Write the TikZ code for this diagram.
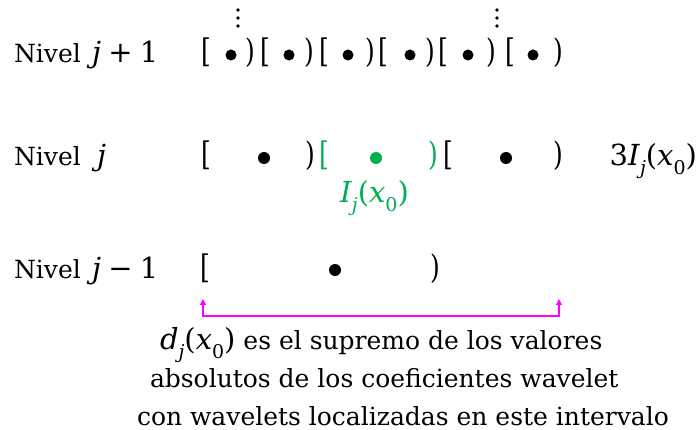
\documentclass[tikz,border=0pt]{standalone}
\usepackage{fontspec}
\setmainfont{DejaVu Serif}
\usetikzlibrary{arrows.meta}
\definecolor{ggreen}{RGB}{0,176,80}
\definecolor{mag}{RGB}{255,0,255}
\newcommand{\mysub}[1]{\raisebox{-0.3em}{\fontsize{19}{19}\selectfont #1}}
\newcommand{\mth}[1]{{\fontsize{29}{30}\selectfont #1}}
\newcommand{\tallbr}[1]{\scalebox{1}[1.3]{#1}}
\tikzset{
  txt/.style={inner sep=0pt, outer sep=0pt, font=\fontsize{25}{30}\selectfont, anchor=base west},
  brk/.style={inner sep=0pt, outer sep=0pt, font=\fontsize{25}{30}\selectfont, anchor=base},
  dotn/.style={circle, fill=black, draw=none, inner sep=0pt, minimum size=12pt},
  vdot/.style={circle, fill=black, draw=none, inner sep=0pt, minimum size=3.6pt},
  conn/.style={mag, line width=1.4pt, {Triangle[length=6pt,width=6pt]}-{Triangle[length=6pt,width=6pt]}}
}
\begin{document}
\begin{tikzpicture}[x=1pt,y=-1pt]
\useasboundingbox (0,0) rectangle (699,430);
% vertical dots
\foreach \yy [count=\k] in {10,18,26}{
  \node[vdot] (va\k) at (238,\yy) {};
  \node[vdot] (vb\k) at (497,\yy) {};
}
% labels
\node[txt] (l1) at (14,63) {Nivel\hspace{0.45em}\mth{\textit{j}\hspace{0.25em}+\hspace{0.25em}1}};
\node[txt] (l2) at (14,166) {Nivel\hspace{0.65em}\mth{\textit{j}}};
\node[txt] (l3) at (14,279) {Nivel\hspace{0.45em}\mth{\textit{j}\hspace{0.25em}−\hspace{0.25em}1}};
% row j+1
\foreach \xo/\xd/\xc [count=\k] in {206/231/250, 265/289/309, 324/348/370, 383/410/430, 443/468/491, 510/533/558}{
  \node[brk] (ao\k) at (\xo,63) {\tallbr{[}};
  \node[dotn, minimum size=11pt] (ad\k) at (\xd,55) {};
  \node[brk] (ac\k) at (\xc,63) {\tallbr{)}};
}
% row j
\node[brk] (bo1) at (206,166) {\tallbr{[}};
\node[dotn] (bd1) at (264,158) {};
\node[brk] (bc1) at (310,166) {\tallbr{)}};
\node[brk, text=ggreen] (bo2) at (324,166) {\tallbr{[}};
\node[dotn, fill=ggreen] (bd2) at (376,158) {};
\node[brk, text=ggreen] (bc2) at (433,166) {\tallbr{)}};
\node[brk] (bo3) at (448,166) {\tallbr{[}};
\node[dotn] (bd3) at (506,158) {};
\node[brk] (bc3) at (558,166) {\tallbr{)}};
\node[txt, anchor=base east] (three) at (697,166) {\mth{3\textit{I}\mysub{\textit{j}}(\textit{x}\mysub{0})}};
\node[txt, text=ggreen] (ij) at (340,203) {\mth{\textit{I}\mysub{\textit{j}}(\textit{x}\mysub{0})}};
% row j-1
\node[brk] (co1) at (205,279) {\tallbr{[}};
\node[dotn] (cd1) at (335,270) {};
\node[brk] (cc1) at (435,279) {\tallbr{)}};
% magenta connector
\coordinate (mL) at (203,299);
\coordinate (mR) at (559,299);
\draw[conn] (mL) -- (203,316) -- (559,316) -- (mR);
% bottom text
\node[txt] (t1) at (160,350) {\mth{\textit{d}\mysub{\textit{j}}(\textit{x}\mysub{0})} es el supremo de los valores};
\node[txt] (t2) at (150,388) {absolutos de los coeficientes wavelet};
\node[txt] (t3) at (137,425) {con wavelets localizadas en este intervalo};
\end{tikzpicture}
\end{document}
